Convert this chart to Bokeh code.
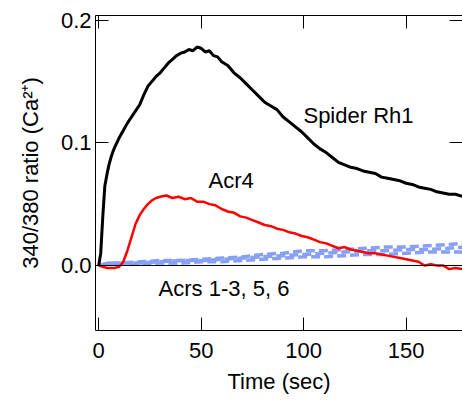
from bokeh.plotting import figure
from bokeh.models import (LinearAxis, Span, Title, FixedTicker, Range1d, NumeralTickFormatter,
                          CustomLabelingPolicy)
from bokeh.core.properties import value
from bokeh.embed import file_html
from bokeh.resources import INLINE

# Spider Rh1 (black)
t_rh1 = [0, 1, 2, 3, 4, 5, 6, 7, 8, 10, 12, 14, 16, 18, 20, 22, 24, 26, 28, 30, 32, 34, 36, 38, 40,
         42, 44, 46, 48, 50, 52, 54, 56, 58, 60, 63, 66, 69, 72, 75, 78, 81, 84, 87, 90, 93, 96, 99,
         102, 105, 108, 111, 114, 117, 120, 123, 126, 129, 132, 135, 138, 141, 144, 147, 150, 153,
         156, 159, 162, 165, 168, 171, 174, 178]
v_rh1 = [0.0, 0.01, 0.04, 0.065, 0.074, 0.082, 0.088, 0.093, 0.097, 0.104, 0.110, 0.116, 0.121,
         0.126, 0.131, 0.139, 0.146, 0.150, 0.154, 0.157, 0.161, 0.165, 0.168, 0.171, 0.173, 0.174,
         0.176, 0.175, 0.178, 0.177, 0.174, 0.175, 0.171, 0.170, 0.166, 0.163, 0.157, 0.153, 0.148,
         0.143, 0.138, 0.133, 0.130, 0.127, 0.121, 0.117, 0.113, 0.109, 0.104, 0.099, 0.095, 0.092,
         0.088, 0.084, 0.082, 0.080, 0.079, 0.077, 0.076, 0.075, 0.072, 0.071, 0.070, 0.069, 0.067,
         0.066, 0.064, 0.063, 0.062, 0.060, 0.059, 0.058, 0.058, 0.056]

# Acr4 (red)
t_acr4 = [0, 2, 4, 6, 8, 10, 12, 14, 16, 18, 20, 22, 24, 26, 28, 30, 33, 36, 39, 42, 45, 48, 51,
          54, 57, 60, 63, 66, 69, 72, 75, 78, 81, 84, 87, 90, 93, 96, 99, 102, 105, 108, 111, 114,
          117, 120, 123, 126, 129, 132, 135, 138, 141, 144, 147, 150, 153, 156, 159, 162, 165, 168,
          171, 174, 178]
v_acr4 = [0.0, -0.001, -0.002, -0.002, -0.002, -0.001, 0.003, 0.012, 0.023, 0.034, 0.041, 0.046,
          0.050, 0.053, 0.055, 0.056, 0.057, 0.055, 0.056, 0.054, 0.055, 0.052, 0.052, 0.050, 0.049,
          0.046, 0.044, 0.043, 0.040, 0.039, 0.037, 0.035, 0.033, 0.032, 0.030, 0.029, 0.027, 0.026,
          0.024, 0.023, 0.021, 0.019, 0.018, 0.016, 0.014, 0.015, 0.013, 0.012, 0.011, 0.010, 0.010,
          0.009, 0.008, 0.007, 0.006, 0.005, 0.004, 0.003, 0.000, 0.001, 0.000, 0.000, -0.003,
          -0.002, -0.003]

# Acrs 1-3, 5, 6 (blue dashed)
t_acrs = [0, 5, 10, 20, 30, 40, 50, 60, 70, 80, 90, 100, 110, 120, 130, 140, 150, 160, 170, 178]
v_acrs_a = [0.0, 0.002, 0.002, 0.003, 0.004, 0.004, 0.005, 0.006, 0.007, 0.009, 0.010, 0.012,
            0.012, 0.013, 0.014, 0.015, 0.015, 0.016, 0.017, 0.018]
v_acrs_b = [0.0, 0.001, 0.002, 0.002, 0.003, 0.004, 0.004, 0.005, 0.006, 0.007, 0.008, 0.009,
            0.010, 0.011, 0.012, 0.012, 0.013, 0.013, 0.014, 0.015]
v_acrs_c = [0.0, 0.002, 0.001, 0.001, 0.002, 0.002, 0.003, 0.003, 0.004, 0.005, 0.006, 0.007,
            0.007, 0.008, 0.009, 0.009, 0.010, 0.011, 0.011, 0.011]

x_ticks = [0, 50, 100, 150]
y_ticks = [0.0, 0.1, 0.2]

ann_text = ["Spider Rh1", "Acr4", "Acrs 1-3, 5, 6"]
ann_x = [99.9, 53.6, 29.2]
ann_y = [0.1222, 0.0693, -0.0187]

FONT = "Liberation Sans"
FS = "22px"
BLUE = "#87a0f5"

p = figure(width=462, height=401, output_backend="svg", toolbar_location=None,
           x_range=Range1d(-1.56, 177.5), y_range=Range1d(-0.053, 0.2037),
           x_axis_location=None, y_axis_location=None,
           min_border_left=95, min_border_top=15, min_border_right=0, min_border_bottom=71)
p.grid.visible = False
p.outline_line_color = None
p.background_fill_color = "white"
p.border_fill_color = "white"

no_labels = CustomLabelingPolicy(code="for (const i of indices) { indices.unset(i) }\nreturn indices")


def style_axis(ax, labels=True):
    ax.axis_line_color = "black"
    ax.axis_line_width = 1
    ax.major_tick_line_color = "black"
    ax.major_tick_in = 13
    ax.major_tick_out = 0
    ax.minor_tick_line_color = None
    ax.major_label_text_font = FONT
    ax.major_label_text_color = "black"
    if labels:
        ax.major_label_text_font_size = FS
    else:
        ax.major_label_text_font_size = "0px"
        ax.major_label_standoff = 0
        ax.major_label_policy = no_labels


left = LinearAxis(ticker=FixedTicker(ticks=y_ticks), formatter=NumeralTickFormatter(format="0.0"))
style_axis(left)
left.major_label_standoff = 4
p.add_layout(left, "left")

ytitle = Title(text="340/380 ratio (Ca\u00b2\u207a)", align="center", offset=21, standoff=29,
               text_font=FONT, text_font_size=FS, text_font_style="normal", text_color="black")
p.add_layout(ytitle, "left")

below = LinearAxis(ticker=FixedTicker(ticks=x_ticks), axis_label="Time (sec)")
style_axis(below)
below.major_label_standoff = 12
below.axis_label_text_font = FONT
below.axis_label_text_font_size = FS
below.axis_label_text_font_style = "normal"
below.axis_label_text_color = "black"
below.axis_label_standoff = 8
p.add_layout(below, "below")

above = LinearAxis(ticker=FixedTicker(ticks=x_ticks))
style_axis(above, labels=False)
p.add_layout(above, "above")

right = LinearAxis(ticker=FixedTicker(ticks=y_ticks))
style_axis(right, labels=False)
p.add_layout(right, "right")

p.add_layout(Span(location=0, dimension="width", line_color="black", line_width=1))

for vv, off in ((v_acrs_a, 0), (v_acrs_b, 4), (v_acrs_c, 8)):
    p.line(t_acrs, vv, line_color=BLUE, line_width=3.5, line_dash="9 4", line_dash_offset=off)

p.line(t_acr4, v_acr4, line_color="#ff0000", line_width=2.5)
p.line(t_rh1, v_rh1, line_color="black", line_width=3)

p.text(x=ann_x, y=ann_y, text=ann_text, text_font=value(FONT), text_font_size=FS,
       text_baseline="middle", text_align="left", text_color="black")

open("out.html", "w").write(file_html(p, INLINE))
